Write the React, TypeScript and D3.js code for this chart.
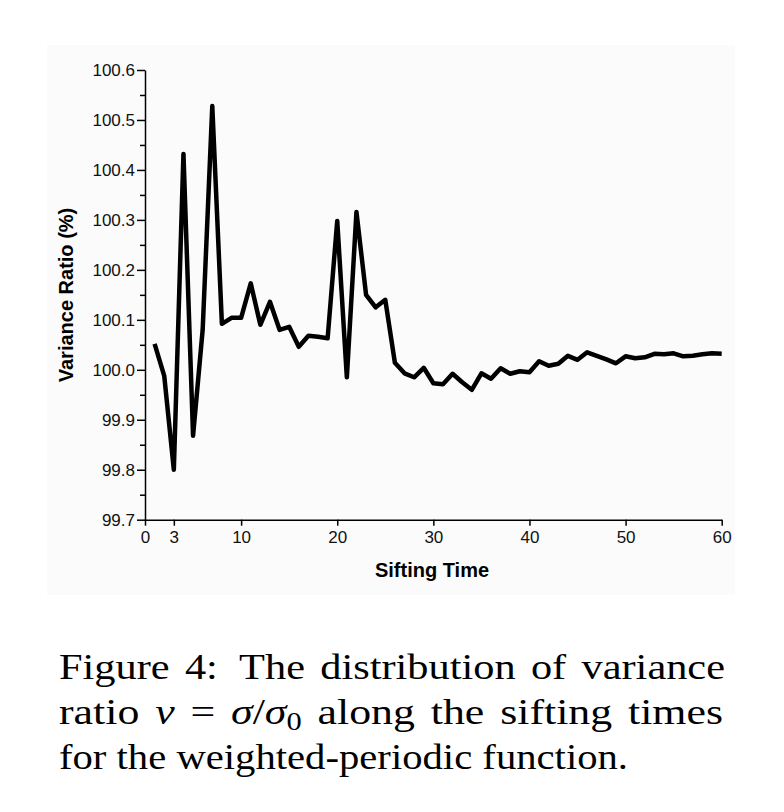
import { useEffect, useRef } from 'react';
import * as d3 from 'd3';

// sifting times 1..60 and the variance ratio (%)
const siftingTimes = d3.range(1, 61);
const varianceRatio = [
  100.052, 99.988, 99.8, 100.432, 99.868, 100.08, 100.528, 100.092, 100.104, 100.104,
  100.173, 100.09, 100.136, 100.08, 100.086, 100.046, 100.068, 100.066, 100.063, 100.298,
  99.985, 100.316, 100.15, 100.125, 100.14, 100.014, 99.993, 99.985, 100.004, 99.973,
  99.971, 99.992, 99.975, 99.96, 99.993, 99.982, 100.003, 99.992, 99.997, 99.995,
  100.017, 100.008, 100.012, 100.028, 100.02, 100.035, 100.028, 100.021, 100.013, 100.027,
  100.023, 100.025, 100.032, 100.031, 100.033, 100.027, 100.028, 100.031, 100.033, 100.032,
];

const xTicks = [0, 3, 10, 20, 30, 40, 50, 60];
const yTicks = [99.7, 99.8, 99.9, 100.0, 100.1, 100.2, 100.3, 100.4, 100.5, 100.6];
const yMinorTicks = [99.75, 99.85, 99.95, 100.05, 100.15, 100.25, 100.35, 100.45, 100.55];

const xTitle = 'Sifting Time';
const yTitle = 'Variance Ratio (%)';

function Chart() {
  const ref = useRef<SVGGElement>(null);

  useEffect(() => {
    const svg = d3.select(ref.current);
    svg.selectAll('*').remove();

    // chart panel (the pasted plot has a very light grey backdrop)
    svg
      .append('rect')
      .attr('x', 47)
      .attr('y', 45)
      .attr('width', 688)
      .attr('height', 550)
      .attr('fill', '#fbfbfb');

    const x = d3.scaleLinear().domain([0, 60]).range([145, 721.7]);
    const y = d3.scaleLinear().domain([99.7, 100.6]).range([519.7, 70]);

    const font = "'Liberation Sans', Arial, sans-serif";

    // y axis
    const yAxis = svg
      .append('g')
      .attr('transform', `translate(${x(0)},0)`)
      .call(
        d3
          .axisLeft(y)
          .tickValues(yTicks)
          .tickSize(8)
          .tickSizeOuter(0)
          .tickPadding(2)
          .tickFormat(d3.format('.1f'))
      );
    yAxis.select('.domain').attr('stroke', '#000').attr('stroke-width', 1.5);
    yAxis.selectAll('.tick line').attr('stroke', '#000').attr('stroke-width', 1.5);
    yAxis
      .selectAll('.tick text')
      .style('font-family', font)
      .style('font-size', '17px')
      .attr('fill', '#111');

    svg
      .append('g')
      .attr('transform', `translate(${x(0)},0)`)
      .call(d3.axisLeft(y).tickValues(yMinorTicks).tickSize(5).tickFormat(() => ''))
      .call(g => g.select('.domain').remove())
      .selectAll('.tick line')
      .attr('stroke', '#000')
      .attr('stroke-width', 1.5);

    // x axis
    const xAxis = svg
      .append('g')
      .attr('transform', `translate(0,${y(99.7)})`)
      .call(
        d3
          .axisBottom(x)
          .tickValues(xTicks)
          .tickSize(6)
          .tickSizeOuter(0)
          .tickPadding(5)
          .tickFormat(d3.format('d'))
      );
    xAxis.select('.domain').attr('stroke', '#000').attr('stroke-width', 1.5);
    xAxis.selectAll('.tick line').attr('stroke', '#000').attr('stroke-width', 1.5);
    xAxis
      .selectAll('.tick text')
      .style('font-family', font)
      .style('font-size', '17px')
      .attr('fill', '#111');

    // titles
    svg
      .append('text')
      .attr('x', 432)
      .attr('y', 577)
      .attr('text-anchor', 'middle')
      .style('font-family', font)
      .style('font-size', '20px')
      .style('font-weight', 'bold')
      .text(xTitle);

    svg
      .append('text')
      .attr('transform', 'translate(73,295) rotate(-90)')
      .attr('text-anchor', 'middle')
      .style('font-family', font)
      .style('font-size', '20px')
      .style('font-weight', 'bold')
      .text(yTitle);

    // the series
    const line = d3
      .line<number>()
      .x((_, i) => x(siftingTimes[i]))
      .y(d => y(d));

    svg
      .append('path')
      .datum(varianceRatio)
      .attr('fill', 'none')
      .attr('stroke', '#000')
      .attr('stroke-width', 4.5)
      .attr('stroke-linejoin', 'round')
      .attr('d', line);
  }, []);

  return <g ref={ref} />;
}

export default function App() {
  const serif = "'Liberation Serif', 'Times New Roman', serif";

  return (
    <svg
      width={784}
      height={812}
      style={{ position: 'absolute', left: 0, top: 0, background: '#fff' }}
    >
      <Chart />
      <g fontFamily={serif} fontSize={36} fill="#000">
        <text x={59} y={679} textLength={666} lengthAdjust="spacingAndGlyphs" wordSpacing={4}>
          {'Figure 4:\u2002The distribution of variance'}
        </text>
        <text x={59} y={724} textLength={664} lengthAdjust="spacingAndGlyphs" wordSpacing={4}>
          {'ratio '}
          <tspan fontStyle="italic">ν</tspan>
          {'\u00a0=\u00a0'}
          <tspan fontStyle="italic">σ</tspan>
          {'/'}
          <tspan fontStyle="italic">σ</tspan>
          <tspan fontSize={25} dy={6}>0</tspan>
          <tspan dy={-6}>{' along the sifting times'}</tspan>
        </text>
        <text x={59} y={769} textLength={569} lengthAdjust="spacingAndGlyphs">
          {'for the weighted-periodic function.'}
        </text>
      </g>
    </svg>
  );
}
